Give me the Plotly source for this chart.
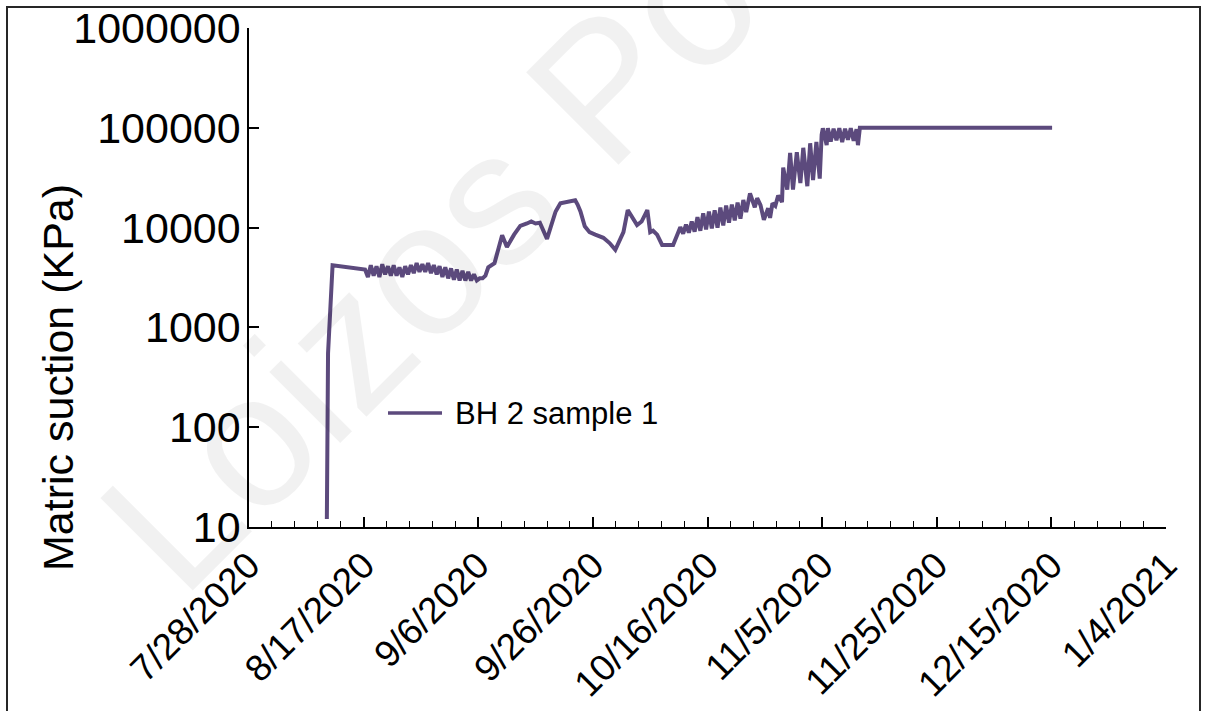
import plotly.graph_objects as go

# Matric suction readings, BH 2 sample 1
dates = [
    "2020-08-10 14:00", "2020-08-10 19:00", "2020-08-11 14:00", "2020-08-17 06:00",
    "2020-08-17 18:00",
    "2020-08-18 06:00", "2020-08-18 18:00", "2020-08-19 06:00", "2020-08-19 18:00",
    "2020-08-20 06:00", "2020-08-20 18:00", "2020-08-21 06:00", "2020-08-21 18:00",
    "2020-08-22 06:00", "2020-08-22 18:00", "2020-08-23 06:00", "2020-08-23 18:00",
    "2020-08-24 06:00", "2020-08-24 18:00", "2020-08-25 06:00", "2020-08-25 18:00",
    "2020-08-26 06:00", "2020-08-26 18:00", "2020-08-27 06:00", "2020-08-27 18:00",
    "2020-08-28 06:00", "2020-08-28 18:00", "2020-08-29 06:00", "2020-08-29 18:00",
    "2020-08-30 06:00", "2020-08-30 18:00", "2020-08-31 06:00", "2020-08-31 18:00",
    "2020-09-01 06:00", "2020-09-01 18:00", "2020-09-02 06:00", "2020-09-02 18:00",
    "2020-09-03 06:00", "2020-09-03 18:00", "2020-09-04 06:00", "2020-09-04 18:00",
    "2020-09-05 06:00", "2020-09-05 18:00", "2020-09-06 06:00", "2020-09-06 18:00",
    "2020-09-07 06:00", "2020-09-07 18:00", "2020-09-08 20:00", "2020-09-10 04:00",
    "2020-09-11 00:00", "2020-09-12 06:00", "2020-09-13 08:00", "2020-09-14 12:00",
    "2020-09-15 06:00", "2020-09-16 00:00", "2020-09-16 18:00", "2020-09-18 00:00",
    "2020-09-18 22:00", "2020-09-19 12:00", "2020-09-20 08:00", "2020-09-21 12:00",
    "2020-09-22 22:00", "2020-09-23 08:00", "2020-09-23 20:00", "2020-09-24 14:00",
    "2020-09-25 10:00", "2020-09-26 10:00", "2020-09-27 20:00", "2020-09-28 22:00",
    "2020-09-29 22:00", "2020-10-01 08:00", "2020-10-02 02:00", "2020-10-03 17:00",
    "2020-10-04 12:00", "2020-10-05 12:00", "2020-10-06 00:00", "2020-10-06 12:00",
    "2020-10-07 05:00", "2020-10-08 02:00", "2020-10-10 00:00", "2020-10-10 20:00",
    "2020-10-11 06:00", "2020-10-11 18:00", "2020-10-12 06:00", "2020-10-12 18:00",
    "2020-10-13 06:00", "2020-10-13 18:00", "2020-10-14 06:00", "2020-10-14 18:00",
    "2020-10-15 06:00", "2020-10-15 18:00", "2020-10-16 06:00", "2020-10-16 18:00",
    "2020-10-17 06:00", "2020-10-17 18:00", "2020-10-18 06:00", "2020-10-18 18:00",
    "2020-10-19 06:00", "2020-10-19 18:00", "2020-10-20 06:00", "2020-10-20 18:00",
    "2020-10-21 06:00", "2020-10-21 18:00", "2020-10-22 06:00", "2020-10-22 18:00",
    "2020-10-23 10:00", "2020-10-24 06:00", "2020-10-24 16:00", "2020-10-25 06:00",
    "2020-10-25 20:00", "2020-10-26 14:00", "2020-10-26 22:00", "2020-10-27 08:00",
    "2020-10-27 20:00", "2020-10-28 08:00", "2020-10-29 00:00", "2020-10-29 05:00",
    "2020-10-29 22:00", "2020-10-30 10:00", "2020-10-30 22:00", "2020-10-31 14:00",
    "2020-11-01 05:00", "2020-11-01 17:00", "2020-11-02 10:00", "2020-11-02 22:00",
    "2020-11-03 10:00", "2020-11-04 00:00", "2020-11-04 14:00", "2020-11-04 22:00",
    "2020-11-05 03:00", "2020-11-05 19:00", "2020-11-06 00:00", "2020-11-06 12:00",
    "2020-11-07 00:00", "2020-11-07 12:00", "2020-11-08 00:00", "2020-11-08 12:00",
    "2020-11-09 00:00", "2020-11-09 12:00", "2020-11-10 00:00", "2020-11-10 12:00",
    "2020-11-11 00:00", "2020-11-11 06:00", "2020-11-11 14:00", "2020-12-15 03:00",
]

suction_kpa = [
    12, 550, 4200, 3800,
    3200,
    4200, 3300, 4100, 3200,
    4300, 3400, 4100, 3300,
    4200, 3300, 4000, 3200,
    4100, 3400, 4200, 3500,
    4400, 3600, 4300, 3600,
    4400, 3500, 4200, 3400,
    4100, 3200, 4000, 3100,
    3900, 3000, 3800, 2950,
    3700, 2950, 3600, 2950,
    3400, 2950, 3100, 3100,
    3300, 4000, 4400, 8400,
    6400, 8500, 10400, 11000,
    11500, 11000, 11200, 7700,
    11400, 14500, 17500, 18200,
    18800, 17000, 14500, 10300,
    9000, 8500, 7900, 7000,
    6000, 9000, 15000, 10600,
    11500, 15000, 9000, 9300,
    8500, 6700, 6700, 8800,
    10100, 8700, 10700, 8900,
    11500, 9100, 12700, 9300,
    13900, 9600, 14500, 9800,
    14900, 10000, 15900, 10500,
    16600, 11200, 17000, 11800,
    17800, 12300, 18900, 14300,
    22000, 16000, 19700, 16800,
    12000, 15600, 12500, 17500,
    16500, 21000, 18000, 40000,
    24000, 56000, 24000, 57000,
    28000, 63000, 26000, 70000,
    30000, 72000, 31000, 85000,
    99000, 67000, 99000, 73000,
    98000, 75000, 99000, 72000,
    98000, 76000, 99000, 74000,
    97000, 67000, 100000, 100000,
]

series_name = "BH 2 sample 1"
y_tick_values = [10, 100, 1000, 10000, 100000, 1000000]
y_tick_labels = ["10", "100", "1000", "10000", "100000", "1000000"]
x_start, x_end = "2020-07-28", "2021-01-04"

LINE_COLOR = "#5C4A7D"
FONT = "Arial, Liberation Sans, sans-serif"
DAY_MS = 86400000

fig = go.Figure()
fig.add_trace(go.Scatter(
    x=dates, y=suction_kpa, mode="lines", name=series_name,
    line=dict(color=LINE_COLOR, width=4), showlegend=False,
))

fig.update_layout(
    width=1205, height=711,
    margin=dict(l=249, r=39, t=28, b=184, autoexpand=False),
    paper_bgcolor="white", plot_bgcolor="white",
    font=dict(family=FONT, color="black"),
)

fig.update_xaxes(
    type="date", range=[x_start, x_end], automargin=False,
    tick0=x_start, dtick=20 * DAY_MS, tickformat="%-m/%-d/%Y",
    tickangle=-45, tickfont=dict(size=37, family=FONT, color="black"),
    showline=True, linecolor="black", linewidth=1.5,
    ticks="inside", ticklen=10, tickwidth=1.5, tickcolor="black",
    minor=dict(dtick=4 * DAY_MS, tick0=x_start, ticks="inside", ticklen=6,
               tickwidth=1.2, tickcolor="black", showgrid=False),
    showgrid=False, zeroline=False,
)

fig.update_yaxes(
    type="log", range=[1, 6], automargin=False,
    tickvals=y_tick_values, ticktext=y_tick_labels,
    tickfont=dict(size=43, family=FONT, color="black"),
    ticklabelstandoff=-2,
    showline=True, linecolor="black", linewidth=1.5,
    ticks="inside", ticklen=10, tickwidth=1.5, tickcolor="black",
    showgrid=False, zeroline=False,
)

def px_x(p):
    return (p - 249) / 917

def px_y(p):
    return (527 - p) / 499

# faint diagonal watermark
fig.add_annotation(
    text="Loizos Po", xref="paper", yref="paper",
    x=px_x(430), y=px_y(260), xanchor="center", yanchor="middle",
    textangle=-45, showarrow=False,
    font=dict(size=190, family=FONT, color="rgba(0,0,0,0.055)"),
)

# y-axis title
fig.add_annotation(
    text="Matric suction (KPa)", xref="paper", yref="paper",
    x=px_x(58), y=px_y(378), xanchor="center", yanchor="middle",
    textangle=-90, showarrow=False,
    font=dict(size=43, family=FONT, color="black"),
)

# legend entry
fig.add_shape(type="line", xref="paper", yref="paper",
              x0=px_x(388), x1=px_x(442), y0=px_y(413), y1=px_y(413),
              line=dict(color=LINE_COLOR, width=3.5))
fig.add_annotation(
    text=series_name, xref="paper", yref="paper",
    x=px_x(453), y=px_y(413), xanchor="left", yanchor="middle",
    showarrow=False, font=dict(size=31, family=FONT, color="black"),
)

# outer chart frame
fig.add_shape(type="rect", xref="paper", yref="paper",
              x0=px_x(7), x1=px_x(1200), y0=px_y(730), y1=px_y(7),
              line=dict(color="#262626", width=2), fillcolor="rgba(0,0,0,0)")

fig.write_html("out.html")
